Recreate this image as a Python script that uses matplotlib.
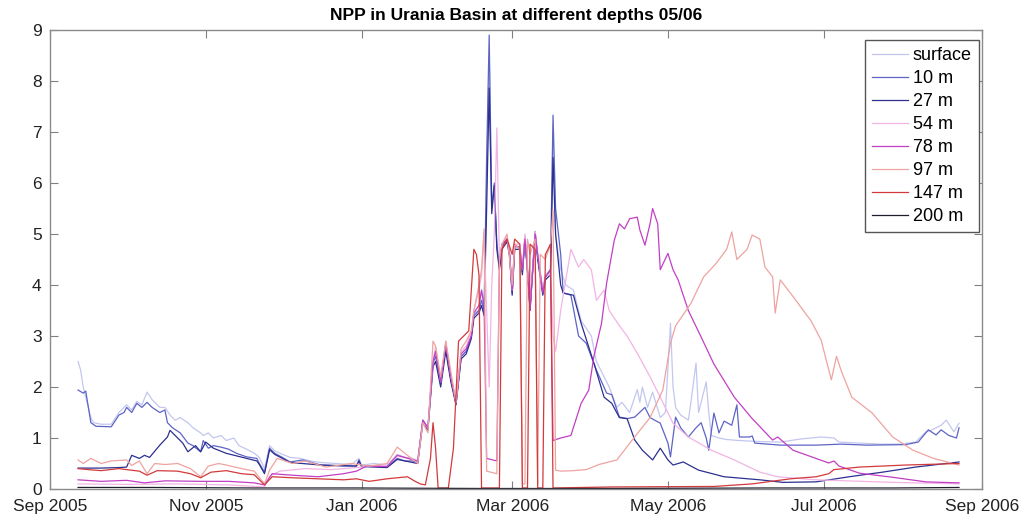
import numpy as np
import matplotlib
matplotlib.use('Agg')
import matplotlib.pyplot as plt
import matplotlib.dates as mdates

# days counted from 1 Sep 2005
surf_day = [11, 12, 13, 16, 17, 20, 24, 27, 30, 32, 34, 36, 38, 40, 43, 45, 47, 49, 51, 54, 56, 59, 60, 62, 64, 67, 69, 72, 74, 77,
            80, 82, 84, 86, 88, 91, 94, 98, 102, 106, 112, 118, 121, 122, 127, 132, 136, 139, 142, 144, 146, 148, 150, 151, 153,
            155, 156, 157, 159, 161, 163, 165, 166, 168, 169, 170, 171, 172, 173, 174, 175, 176, 177, 179, 180, 181, 182, 184,
            185, 186, 187, 188, 190, 191, 193, 194, 196, 197, 198, 200, 202, 205, 208, 212, 214, 217, 219, 222, 224, 227, 230,
            231, 232, 234, 236, 239, 241, 243, 244, 245, 247, 250, 251, 253, 254, 257, 258, 259, 262, 265, 270, 278, 286, 294,
            302, 307, 309, 317, 325, 333, 339, 343, 345, 349, 351, 354, 356]
surf_val = [2.5, 2.33, 2.0, 1.4, 1.3, 1.27, 1.27, 1.5, 1.65, 1.55, 1.72, 1.65, 1.9, 1.75, 1.6, 1.6, 1.45, 1.35, 1.4, 1.3, 1.2, 1.1,
            1.05, 1.1, 1.0, 1.05, 0.95, 1.0, 0.85, 0.78, 0.7, 0.62, 0.4, 0.85, 0.75, 0.68, 0.62, 0.6, 0.55, 0.52, 0.5, 0.48, 0.6,
            0.47, 0.5, 0.47, 0.68, 0.62, 0.6, 0.55, 1.3, 1.2, 2.5, 2.7, 2.1, 2.8, 2.4, 2.2, 1.7, 2.6, 2.7, 3.0, 3.45, 3.5, 3.9,
            3.5, 6.0, 8.5, 5.6, 5.9, 4.8, 4.4, 4.8, 4.9, 4.6, 3.9, 4.8, 4.7, 4.3, 4.9, 4.3, 3.6, 5.0, 4.6, 3.9, 4.2, 4.3, 7.0,
            5.0, 4.3, 4.0, 3.9, 3.3, 3.0, 2.5, 2.2, 2.0, 1.6, 1.7, 1.5, 1.95, 1.7, 2.0, 1.6, 1.9, 1.4, 1.5, 3.25, 2.0, 1.6, 1.45,
            1.35, 1.7, 2.47, 1.5, 2.1, 1.5, 1.05, 1.0, 0.97, 0.95, 0.93, 0.92, 0.98, 1.02, 1.0, 0.92, 0.9, 0.88, 0.88, 0.92,
            1.12, 1.15, 1.25, 1.35, 1.12, 1.29]

m10_day = [11, 13, 14, 16, 18, 24, 27, 29, 30, 32, 34, 36, 38, 40, 43, 45, 46, 48, 51, 54, 56, 59, 60, 62, 64, 67, 70, 73, 77, 81,
           82, 84, 86, 88, 91, 94, 99, 106, 115, 120, 121, 122, 128, 132, 136, 139, 142, 144, 146, 148, 150, 151, 153, 155,
           157, 159, 161, 163, 165, 166, 168, 169, 170, 171, 172, 173, 174, 175, 176, 177, 179, 180, 181, 182, 184, 185, 186,
           187, 188, 190, 191, 193, 194, 196, 197, 198, 200, 201, 204, 207, 210, 214, 218, 220, 223, 226, 229, 233, 235, 239,
           242, 243, 245, 247, 250, 253, 255, 257, 258, 260, 262, 264, 267, 269, 270, 274, 275, 276, 286, 300, 310, 320, 335,
           340, 344, 347, 349, 352, 355, 356]
m10_val = [1.94, 1.88, 1.92, 1.3, 1.23, 1.22, 1.45, 1.5, 1.6, 1.5, 1.68, 1.6, 1.7, 1.6, 1.5, 1.55, 1.3, 1.2, 1.1, 0.9, 0.85, 0.73,
           0.95, 0.8, 0.85, 0.82, 0.78, 0.7, 0.63, 0.6, 0.5, 0.33, 0.8, 0.7, 0.62, 0.53, 0.57, 0.47, 0.45, 0.45, 0.57, 0.45,
           0.45, 0.43, 0.6, 0.55, 0.55, 0.52, 1.35, 1.2, 2.47, 2.6, 2.08, 2.8, 2.14, 1.68, 2.6, 2.7, 3.0, 3.4, 3.5, 3.7, 3.5,
           6.5, 8.9, 5.5, 6.0, 4.8, 4.35, 4.75, 4.9, 4.6, 3.85, 4.75, 4.75, 4.25, 4.95, 4.3, 3.55, 5.05, 4.55, 3.85, 4.15,
           4.3, 7.33, 5.5, 4.6, 3.85, 3.8, 3.0, 2.86, 2.33, 1.88, 1.85, 1.41, 1.38, 1.41, 1.6, 1.4, 1.29, 0.9, 0.63, 1.41, 1.2,
           1.02, 1.2, 1.3, 1.0, 0.76, 1.49, 1.1, 1.33, 1.25, 1.65, 1.02, 1.02, 1.04, 0.9, 0.86, 0.86, 0.88, 0.86, 0.87, 0.92,
           1.16, 1.06, 1.16, 1.05, 1.0, 1.2]

m27_day = [11, 20, 27, 30, 32, 35, 37, 39, 43, 46, 47, 50, 52, 54, 57, 59, 61, 64, 69, 73, 77, 81, 82, 84, 86, 88, 94, 106, 120,
           121, 122, 132, 136, 144, 146, 148, 150, 151, 153, 155, 157, 159, 161, 163, 165, 166, 168, 169, 170, 171, 172, 173,
           174, 175, 176, 177, 179, 180, 181, 182, 184, 185, 186, 187, 188, 190, 191, 193, 194, 196, 197, 198, 200, 201, 205,
           208, 213, 217, 220, 223, 226, 229, 232, 236, 239, 242, 244, 248, 254, 264, 278, 287, 300, 313, 326, 339, 356]
m27_val = [0.41, 0.41, 0.42, 0.43, 0.66, 0.6, 0.66, 0.62, 0.86, 1.02, 1.15, 1.0, 0.9, 0.73, 0.85, 0.73, 0.92, 0.8, 0.7, 0.65,
           0.6, 0.55, 0.48, 0.3, 0.77, 0.68, 0.52, 0.47, 0.45, 0.55, 0.44, 0.42, 0.58, 0.5, 1.3, 1.15, 2.4, 2.5, 2.0, 2.7, 2.1,
           1.65, 2.55, 2.65, 2.95, 3.35, 3.45, 3.6, 3.4, 5.5, 7.86, 5.4, 5.95, 4.7, 4.3, 4.7, 4.85, 4.55, 3.8, 4.7, 4.7, 4.2,
           4.9, 4.25, 3.5, 5.0, 4.5, 3.8, 4.1, 4.2, 6.5, 5.0, 4.0, 3.84, 3.8, 3.25, 2.47, 1.8, 1.68, 1.4, 1.38, 0.96, 0.76,
           0.57, 0.8, 0.57, 0.47, 0.53, 0.37, 0.24, 0.18, 0.13, 0.14, 0.24, 0.33, 0.43, 0.53]

m54_day = [11, 30, 50, 70, 84, 86, 90, 100, 110, 120, 125, 132, 136, 144, 146, 148, 150, 151, 153, 155, 157, 159, 161, 163, 165,
           166, 168, 169, 170, 171, 172, 173, 174, 175, 176, 177, 179, 180, 181, 182, 184, 185, 186, 187, 188, 190, 191, 193,
           194, 196, 197, 198, 200, 204, 207, 209, 212, 214, 217, 219, 223, 226, 230, 235, 239, 244, 250, 259, 268, 278, 285,
           300, 330, 356]
m54_val = [0.1, 0.09, 0.1, 0.08, 0.04, 0.25, 0.35, 0.4, 0.38, 0.42, 0.45, 0.45, 0.65, 0.55, 1.3, 1.2, 2.5, 2.8, 2.1, 2.9, 2.2,
           1.7, 2.7, 2.8, 3.1, 3.5, 3.9, 4.2, 5.0, 3.5, 2.0, 4.0, 5.0, 7.08, 4.5, 4.8, 4.95, 4.6, 3.9, 4.8, 4.8, 4.3, 5.0, 4.35,
           3.6, 5.05, 4.6, 3.9, 4.2, 4.2, 3.0, 2.7, 3.5, 4.7, 4.35, 4.5, 4.3, 3.7, 3.9, 3.5, 3.2, 3.0, 2.66, 2.2, 1.8, 1.29,
           1.02, 0.76, 0.57, 0.33, 0.24, 0.18, 0.13, 0.1]

m78_day = [11, 20, 30, 37, 45, 59, 70, 80, 84, 87, 95, 105, 115, 120, 124, 132, 136, 144, 146, 148, 150, 151, 153, 155, 157,
           159, 161, 163, 165, 166, 168, 169, 170, 171, 175, 176, 177, 179, 180, 181, 182, 184, 185, 186, 187, 188, 190, 191,
           193, 194, 196, 197, 200, 204, 208, 211, 213, 216, 218, 221, 223, 225, 227, 230, 231, 233, 235, 236, 238, 239, 242,
           244, 246, 250, 255, 260, 268, 275, 283, 285, 291, 305, 307, 309, 317, 330, 343, 356]
m78_val = [0.18, 0.15, 0.17, 0.12, 0.16, 0.15, 0.15, 0.12, 0.08, 0.3, 0.27, 0.24, 0.3, 0.35, 0.45, 0.44, 0.66, 0.55, 1.35, 1.2,
           2.5, 2.7, 2.1, 2.85, 2.2, 1.7, 2.65, 2.75, 3.0, 3.45, 3.6, 3.9, 3.6, 0.6, 0.55, 4.4, 4.8, 4.9, 4.6, 3.9, 4.8, 4.7,
           4.3, 4.9, 4.3, 3.5, 5.0, 4.6, 3.85, 4.15, 4.3, 0.95, 1.0, 1.05, 1.68, 1.94, 2.6, 3.25, 4.04, 4.88, 5.2, 5.1, 5.3,
           5.33, 5.08, 4.78, 5.2, 5.5, 5.2, 4.3, 4.62, 4.3, 4.1, 3.5, 2.98, 2.45, 1.8, 1.38, 0.96, 1.02, 0.76, 0.51, 0.55,
           0.45, 0.31, 0.23, 0.14, 0.12]

m97_day = [11, 13, 16, 20, 24, 30, 32, 35, 38, 41, 45, 50, 55, 59, 62, 66, 69, 75, 80, 84, 86, 89, 95, 100, 108, 118, 125, 132,
           136, 139, 144, 146, 148, 150, 151, 153, 155, 157, 159, 161, 163, 165, 166, 168, 169, 170, 171, 175, 176, 177, 179,
           180, 181, 182, 184, 185, 186, 187, 188, 190, 191, 192, 194, 196, 197, 198, 200, 205, 210, 215, 222, 228, 235, 240,
           243, 245, 251, 256, 261, 265, 267, 269, 273, 275, 278, 280, 283, 284, 286, 290, 294, 298, 302, 306, 308, 310, 314,
           322, 330, 338, 346, 356]
m97_val = [0.57, 0.5, 0.6, 0.5, 0.55, 0.57, 0.46, 0.55, 0.3, 0.5, 0.48, 0.5, 0.4, 0.24, 0.45, 0.5, 0.47, 0.4, 0.35, 0.1, 0.37,
           0.6, 0.5, 0.55, 0.43, 0.5, 0.45, 0.5, 0.82, 0.7, 0.5, 1.3, 1.1, 2.9, 2.8, 2.2, 2.9, 2.3, 1.7, 2.75, 2.9, 3.1, 3.5,
           4.0, 4.3, 5.1, 0.35, 0.3, 4.5, 4.8, 5.0, 4.5, 4.0, 4.8, 4.7, 0.1, 0.1, 4.9, 4.6, 4.9, 0.1, 4.6, 4.5, 4.8, 5.47,
           0.37, 0.35, 0.36, 0.38, 0.48, 0.57, 0.96, 1.4, 1.94, 2.86, 3.2, 3.64, 4.16, 4.43, 4.7, 5.04, 4.5, 4.7, 4.98, 4.9,
           4.35, 4.16, 3.45, 4.1, 3.84, 3.57, 3.3, 2.92, 2.14, 2.6, 2.3, 1.8, 1.49, 1.02, 0.76, 0.6, 0.47]

m147_day = [11, 15, 20, 27, 30, 35, 38, 42, 50, 55, 59, 63, 69, 75, 80, 84, 87, 95, 105, 115, 120, 125, 132, 140, 143, 145,
            147, 149, 150, 151, 152, 156, 158, 160, 162, 164, 166, 167, 168, 169, 176, 177, 179, 181, 182, 184, 185, 187, 188,
            190, 191, 193, 194, 196, 197, 220, 260, 275, 290, 300, 305, 307, 317, 335, 356]
m147_val = [0.4, 0.38, 0.36, 0.4, 0.38, 0.35, 0.27, 0.36, 0.35, 0.3, 0.22, 0.33, 0.36, 0.3, 0.28, 0.08, 0.24, 0.22, 0.2, 0.18,
            0.2, 0.15, 0.2, 0.24, 0.15, 0.1, 0.08, 0.6, 1.3, 0.8, 0.02, 0.02, 0.8, 2.9, 3.0, 3.1, 4.7, 4.6, 4.2, 0.02, 0.02,
            4.7, 4.9, 4.6, 4.9, 4.8, 0.02, 0.02, 4.8, 4.7, 0.02, 0.02, 4.6, 4.8, 0.02, 0.04, 0.05, 0.1, 0.2, 0.24, 0.3, 0.38,
            0.43, 0.47, 0.5]

m200_day = [11, 40, 80, 120, 170, 220, 280, 330, 356]
m200_val = [0.03, 0.03, 0.02, 0.02, 0.01, 0.01, 0.02, 0.02, 0.03]

labels = ['surface', '10 m', '27 m', '54 m', '78 m', '97 m', '147 m', '200 m']
colors = ['#c3c7ee', '#5e64c6', '#2c308f', '#f2b4e4', '#c23fc4', '#eea3a0', '#d23a3c', '#1e1e2c']
series = [(surf_day, surf_val), (m10_day, m10_val), (m27_day, m27_val), (m54_day, m54_val),
          (m78_day, m78_val), (m97_day, m97_val), (m147_day, m147_val), (m200_day, m200_val)]

plt.rcParams['font.family'] = ['Liberation Sans', 'DejaVu Sans']

start = np.datetime64('2005-09-01')
fig = plt.figure(figsize=(10.27, 5.22), dpi=100)
ax = fig.add_axes([50/1027, 1-489/522, 932/1027, 459/522])

for (d, v), lab, c in zip(series, labels, colors):
    dates = start + np.array(d).astype('timedelta64[D]')
    ax.plot(dates, v, color=c, lw=0.9, label=lab)

ax.set_xlim(np.datetime64('2005-09-01'), np.datetime64('2006-09-01'))
ax.set_ylim(0, 9)
ax.set_yticks(range(10))
ax.xaxis.set_major_locator(mdates.MonthLocator(bymonth=[1, 3, 5, 7, 9, 11]))
ax.xaxis.set_major_formatter(mdates.DateFormatter('%b %Y'))
ax.tick_params(direction='in', length=6, width=0.8, top=True, right=True, labelsize=12.5,
               colors='#808080', labelcolor='#222222')
ax.tick_params(axis='x', pad=7)
ax.tick_params(axis='y', pad=6)
for s in ax.spines.values():
    s.set_color('#8a8a8a')
    s.set_linewidth(1.0)

ax.set_title('NPP in Urania Basin at different depths 05/06', fontsize=12.5, fontweight='bold', pad=7)

leg = ax.legend(loc='upper right', bbox_to_anchor=(0.9968, 0.978), borderaxespad=0, fontsize=13,
                handlelength=2.0, handletextpad=0.25, labelspacing=0.33, borderpad=0.4,
                fancybox=False, framealpha=1, edgecolor='#555555')
leg.get_frame().set_linewidth(1.0)

fig.savefig('out.png', dpi=100)
